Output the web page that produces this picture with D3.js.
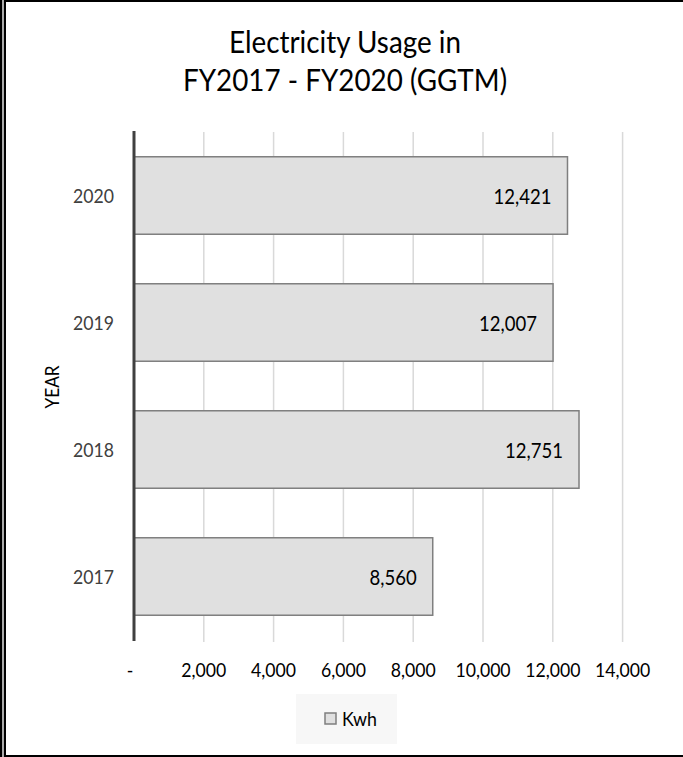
<!DOCTYPE html>
<html><head><meta charset="utf-8">
<script src="https://cdn.jsdelivr.net/npm/d3@7"></script>
<style>body{margin:0;background:#fff;}svg{display:block;}</style>
</head><body>
<script>
const categories = ["2020", "2019", "2018", "2017"];
const values = [12421, 12007, 12751, 8560];
const xTickValues = [0, 2000, 4000, 6000, 8000, 10000, 12000, 14000];
const xTickLabels = ["-", "2,000", "4,000", "6,000", "8,000", "10,000", "12,000", "14,000"];
const titleLines = ["Electricity Usage in", "FY2017 - FY2020 (GGTM)"];
const seriesName = "Kwh";
const yAxisTitle = "YEAR";

const W = 683, H = 757;
const font = "Lato, 'Open Sans', sans-serif";
const SY = 1.1; // vertical stretch to mimic the taller reference glyphs
const svg = d3.select("body").append("svg").attr("width", W).attr("height", H);
svg.append("rect").attr("width", W).attr("height", H).attr("fill", "#fff");

// font size fitting: size so that `sample` spans `target` px
function fitSize(sample, target) {
  const t = svg.append("text").attr("font-family", font).attr("font-size", 100).text(sample);
  const w = t.node().getComputedTextLength();
  t.remove();
  return 100 * target / w;
}
const titleSize = fitSize(titleLines[0], 232);
const tickSize = fitSize("2,000", 45);
const catSize = fitSize("2020", 41);
const valSize = fitSize("12,421", 58);
const yearSize = fitSize(yAxisTitle, 43);
const legSize = fitSize(seriesName, 35);

function placeText(sel, fx, fy) {
  return sel.attr("x", 0).attr("y", 0)
    .attr("transform", (d, i) => `translate(${fx(d, i)},${fy(d, i)}) scale(1,${SY})`);
}

// borders
svg.append("rect").attr("x", 0).attr("y", 0).attr("width", 2).attr("height", H).attr("fill", "#000");
svg.append("rect").attr("x", 2).attr("y", 0).attr("width", 2).attr("height", H).attr("fill", "#aaa");
svg.append("rect").attr("x", 4).attr("y", 0).attr("width", 2).attr("height", H).attr("fill", "#000");
svg.append("rect").attr("x", 4).attr("y", 0).attr("width", W).attr("height", 2).attr("fill", "#000");
svg.append("rect").attr("x", 4).attr("y", H - 2).attr("width", W).attr("height", 2).attr("fill", "#000");

const x = d3.scaleLinear().domain([0, 14000]).range([134, 622.6]);
const y = d3.scaleBand().domain(categories).range([132, 640]).paddingInner(0.39).paddingOuter(0.195);

// title
placeText(svg.append("g").selectAll("text").data(titleLines).join("text"),
  () => 345, (d, i) => 53 + i * 38)
  .attr("text-anchor", "middle").attr("font-family", font).attr("font-size", titleSize)
  .attr("fill", "#000").text(d => d);

// gridlines
svg.append("g").selectAll("line").data(xTickValues.slice(1)).join("line")
  .attr("x1", d => x(d)).attr("x2", d => x(d)).attr("y1", 132).attr("y2", 642)
  .attr("stroke", "#d9d9d9").attr("stroke-width", 1.5);

// bars
svg.append("g").selectAll("rect").data(categories).join("rect")
  .attr("x", x(0)).attr("y", d => y(d))
  .attr("width", (d, i) => x(values[i]) - x(0)).attr("height", y.bandwidth())
  .attr("fill", "#e0e0e0").attr("stroke", "#7f7f7f").attr("stroke-width", 1.5);

// value labels
placeText(svg.append("g").selectAll("text").data(categories).join("text"),
  (d, i) => x(values[i]) - 16, d => y(d) + y.bandwidth() / 2 + 8)
  .attr("text-anchor", "end").attr("font-family", font).attr("font-size", valSize).attr("fill", "#000")
  .text((d, i) => d3.format(",")(values[i]));

// y axis line
svg.append("line").attr("x1", x(0)).attr("x2", x(0)).attr("y1", 131).attr("y2", 641)
  .attr("stroke", "#404040").attr("stroke-width", 3);

// y tick labels
placeText(svg.append("g").selectAll("text").data(categories).join("text"),
  () => 114, d => y(d) + y.bandwidth() / 2 + 7)
  .attr("text-anchor", "end").attr("font-family", font).attr("font-size", catSize).attr("fill", "#404040")
  .text(d => d);

// x tick labels
placeText(svg.append("g").selectAll("text").data(xTickValues).join("text"),
  (d, i) => i === 0 ? x(d) - 4 : x(d), () => 677)
  .attr("text-anchor", "middle")
  .attr("font-family", font).attr("font-size", tickSize).attr("fill", "#000")
  .text((d, i) => xTickLabels[i]);

// y axis title
svg.append("text").attr("transform", `translate(59,387) rotate(-90) scale(1,${SY})`)
  .attr("text-anchor", "middle").attr("font-family", font).attr("font-size", yearSize).attr("fill", "#000")
  .text(yAxisTitle);

// legend
const lg = svg.append("g");
lg.append("rect").attr("x", 296).attr("y", 694).attr("width", 101).attr("height", 50).attr("fill", "#f7f7f7");
lg.append("rect").attr("x", 325).attr("y", 713).attr("width", 11).attr("height", 11)
  .attr("fill", "#e0e0e0").attr("stroke", "#7f7f7f").attr("stroke-width", 1.5);
lg.append("text").attr("transform", `translate(342,726) scale(1,${SY})`)
  .attr("font-family", font).attr("font-size", legSize).attr("fill", "#000").text(seriesName);
</script>
</body></html>
